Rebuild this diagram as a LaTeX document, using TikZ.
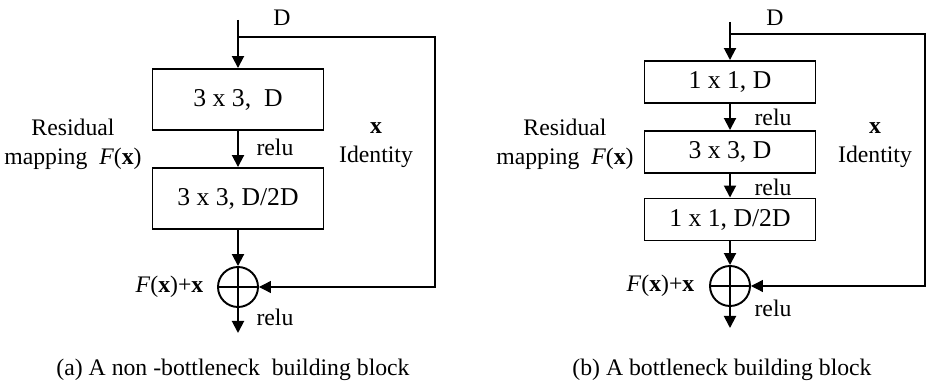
\documentclass[tikz,border=0pt]{standalone}
\usepackage{fontspec}
\setmainfont{Liberation Serif}
\usetikzlibrary{arrows.meta}

\begin{document}
\begin{tikzpicture}[x=1cm,y=1cm,font=\fontsize{13.5}{16.5}\selectfont,
  flow/.style={line width=1.1pt,-{Triangle[length=0.24cm,width=0.24cm]}},
  skip/.style={line width=0.7pt,-{Triangle[length=0.24cm,width=0.24cm]}},
  layer/.style={draw,line width=1.1pt,minimum width=3.42cm,inner sep=0pt,
    font=\fontsize{14.6}{17}\selectfont},
  addop/.style={draw,circle,line width=1.1pt,minimum size=0.8cm,inner sep=0pt,
    path picture={\draw[line width=0.6pt]
      (path picture bounding box.north) -- (path picture bounding box.south)
      (path picture bounding box.west) -- (path picture bounding box.east);}},
  tag/.style={align=center}]
  \useasboundingbox (0,0) rectangle (18.54,-7.66);

  % (a) two 3x3 layers
  \node[layer,minimum height=1.22cm] (convA1) at (4.76,-1.99) {3 x 3,\ \ D};
  \node[layer,minimum height=1.22cm] (convA2) at (4.76,-3.97) {3 x 3, D/2D};
  \node[addop] (sumA) at (4.76,-5.74) {};
  \coordinate (inA) at (4.76,-0.40);
  \coordinate (splitA) at (4.76,-0.74);
  \coordinate (idA) at (8.70,-0.74);
  \coordinate (outA) at (4.76,-6.66);

  \draw[flow] (inA) -- (convA1);
  \draw[flow] (convA1) -- (convA2);
  \draw[flow] (convA2) -- (sumA);
  \draw[flow] (sumA) -- (outA);
  \draw[skip] (splitA) -- (idA) |- (sumA);

  \node (dA) at (5.64,-0.36) {D};
  \node (reluA1) at (5.50,-2.94) {relu};
  \node (reluA2) at (5.50,-6.34) {relu};
  \node[left] (sumlabA) at (4.19,-5.74) {\textit{F}(\textbf{x})+\textbf{x}};
  \node[tag] (resA) at (1.46,-2.89) {Residual\\mapping\ \ \textit{F}(\textbf{x})};
  \node[tag] (idlabA) at (7.52,-2.91) {\textbf{x}\\Identity};
  \node (capA) at (4.66,-7.40) {(a) A non -bottleneck\ \ building block};

  % (b) 1x1 / 3x3 / 1x1 bottleneck
  \node[layer,minimum height=0.84cm] (convB1) at (14.60,-1.64) {1 x 1, D};
  \node[layer,minimum height=0.84cm] (convB2) at (14.60,-3.04) {3 x 3, D};
  \node[layer,minimum height=0.84cm] (convB3) at (14.60,-4.39) {1 x 1, D/2D};
  \node[addop] (sumB) at (14.60,-5.72) {};
  \coordinate (inB) at (14.60,-0.44);
  \coordinate (splitB) at (14.60,-0.68);
  \coordinate (idB) at (18.50,-0.68);
  \coordinate (outB) at (14.60,-6.56);

  \draw[flow] (inB) -- (convB1);
  \draw[flow] (convB1) -- (convB2);
  \draw[flow] (convB2) -- (convB3);
  \draw[flow] (convB3) -- (sumB);
  \draw[flow] (sumB) -- (outB);
  \draw[skip] (splitB) -- (idB) |- (sumB);

  \node (dB) at (15.50,-0.36) {D};
  \foreach \y/\n in {-2.34/1, -3.74/2, -6.16/3}
    \node (reluB\n) at (15.46,\y) {relu};
  \node[left] (sumlabB) at (14.01,-5.72) {\textit{F}(\textbf{x})+\textbf{x}};
  \node[tag] (resB) at (11.30,-2.89) {Residual\\mapping\ \ \textit{F}(\textbf{x})};
  \node[tag] (idlabB) at (17.50,-2.91) {\textbf{x}\\Identity};
  \node (capB) at (14.44,-7.40) {(b) A bottleneck building block};
\end{tikzpicture}
\end{document}
